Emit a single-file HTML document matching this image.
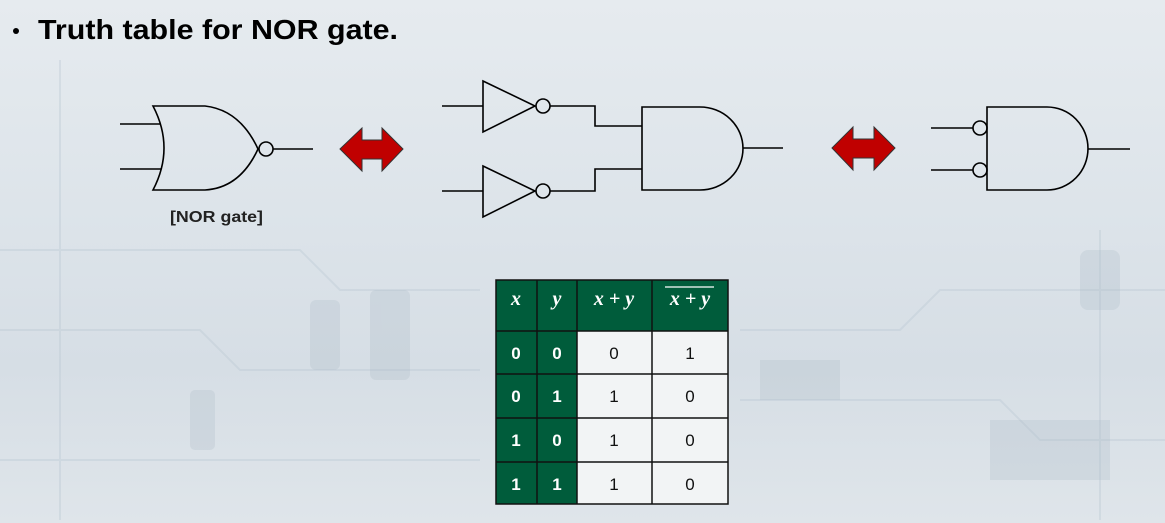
<!DOCTYPE html>
<html><head><meta charset="utf-8"><style>
html,body{margin:0;padding:0}
body{width:1165px;height:523px;overflow:hidden;background:linear-gradient(180deg,#e6ebef 0%,#dde4ea 40%,#d6dee5 70%,#dfe5ea 100%);font-family:"Liberation Sans",sans-serif;position:relative}
</style></head><body>
<svg width="1165" height="523" style="position:absolute;left:0;top:0">
<g opacity="0.35" fill="none" stroke="#b8c6d2" stroke-width="2">
<path d="M0 250 H300 L340 290 H480"/><path d="M0 330 H200 L240 370 H480"/><path d="M740 330 H900 L940 290 H1165"/><path d="M740 400 H1000 L1040 440 H1165"/><path d="M0 460 H480"/><path d="M60 60 V520"/><path d="M1100 230 V520"/>
</g>
<g opacity="0.25" fill="#a9b8c5">
<rect x="310" y="300" width="30" height="70" rx="6"/><rect x="370" y="290" width="40" height="90" rx="6"/><rect x="190" y="390" width="25" height="60" rx="5"/><rect x="760" y="360" width="80" height="40"/><rect x="990" y="420" width="120" height="60"/><rect x="1080" y="250" width="40" height="60" rx="8"/>
</g>
<circle cx="16" cy="31" r="3" fill="#000"/>
<text x="38" y="39" font-family="Liberation Sans, sans-serif" font-size="28" font-weight="bold" fill="#000" textLength="360" lengthAdjust="spacingAndGlyphs">Truth table for NOR gate.</text>
<g fill="none" stroke="#000" stroke-width="1.6">
<line x1="120" y1="124" x2="161" y2="124"/><line x1="120" y1="169" x2="161" y2="169"/>
<path d="M153 106 Q175 148 153 190 L205 190 Q240 188 258 149 Q240 110 205 106 Z"/>
<circle cx="266" cy="149" r="7"/><line x1="273" y1="149" x2="313" y2="149"/>
<line x1="442" y1="106" x2="483" y2="106"/><path d="M483 81 L535 106 L483 132 Z"/><circle cx="543" cy="106" r="7"/>
<line x1="442" y1="191" x2="483" y2="191"/><path d="M483 166 L535 191 L483 217 Z"/><circle cx="543" cy="191" r="7"/>
<path d="M550 106 H595 V126 H642"/><path d="M550 191 H595 V169 H642"/>
<path d="M642 107 H700 A43 41.5 0 0 1 700 190 H642 Z"/><line x1="743" y1="148" x2="783" y2="148"/>
<line x1="931" y1="128" x2="973" y2="128"/><line x1="931" y1="170" x2="973" y2="170"/>
<circle cx="980" cy="128" r="7"/><circle cx="980" cy="170" r="7"/>
<path d="M987 107 H1047 A41 41.5 0 0 1 1047 190 H987 Z"/><line x1="1088" y1="149" x2="1130" y2="149"/>
</g>
<g fill="#c00000" stroke="#333" stroke-width="1">
<path d="M340 149 L362 128 V140 H382 V128 L403 149 L382 171 V159 H362 V171 Z"/>
<path d="M832 148 L853 127 V139 H874 V127 L895 148 L874 170 V158 H853 V170 Z"/>
</g>
<text x="170" y="222" font-family="Liberation Sans, sans-serif" font-size="16" font-weight="bold" fill="#222" textLength="93" lengthAdjust="spacingAndGlyphs">[NOR gate]</text>
<g>
<rect x="496" y="280" width="232" height="51" fill="#005c3b"/>
<rect x="496" y="331" width="81" height="173" fill="#005c3b"/>
<rect x="577" y="331" width="151" height="173" fill="#f2f4f5"/>
<g stroke="#111" stroke-width="1.5" fill="none">
<rect x="496" y="280" width="232" height="224"/>
<line x1="537" y1="280" x2="537" y2="504"/><line x1="577" y1="280" x2="577" y2="504"/><line x1="652" y1="280" x2="652" y2="504"/>
<line x1="496" y1="331" x2="728" y2="331"/><line x1="496" y1="374" x2="728" y2="374"/><line x1="496" y1="418" x2="728" y2="418"/><line x1="496" y1="462" x2="728" y2="462"/>
</g>
<g font-family="Liberation Serif, serif" font-style="italic" font-weight="bold" font-size="20" fill="#fff" text-anchor="middle">
<text x="516" y="305">x</text><text x="557" y="305">y</text><text x="614" y="305">x + y</text><text x="690" y="305">x + y</text>
</g>
<line x1="665" y1="287" x2="714" y2="287" stroke="#fff" stroke-width="1.3"/>
<g font-family="Liberation Sans, sans-serif" font-weight="bold" font-size="17" fill="#fff" text-anchor="middle">
<text x="516" y="359">0</text><text x="557" y="359">0</text>
<text x="516" y="402">0</text><text x="557" y="402">1</text>
<text x="516" y="446">1</text><text x="557" y="446">0</text>
<text x="516" y="490">1</text><text x="557" y="490">1</text>
</g>
<g font-family="Liberation Sans, sans-serif" font-size="17" fill="#111" text-anchor="middle">
<text x="614" y="359">0</text><text x="690" y="359">1</text>
<text x="614" y="402">1</text><text x="690" y="402">0</text>
<text x="614" y="446">1</text><text x="690" y="446">0</text>
<text x="614" y="490">1</text><text x="690" y="490">0</text>
</g>
</g>
</svg>
</body></html>
